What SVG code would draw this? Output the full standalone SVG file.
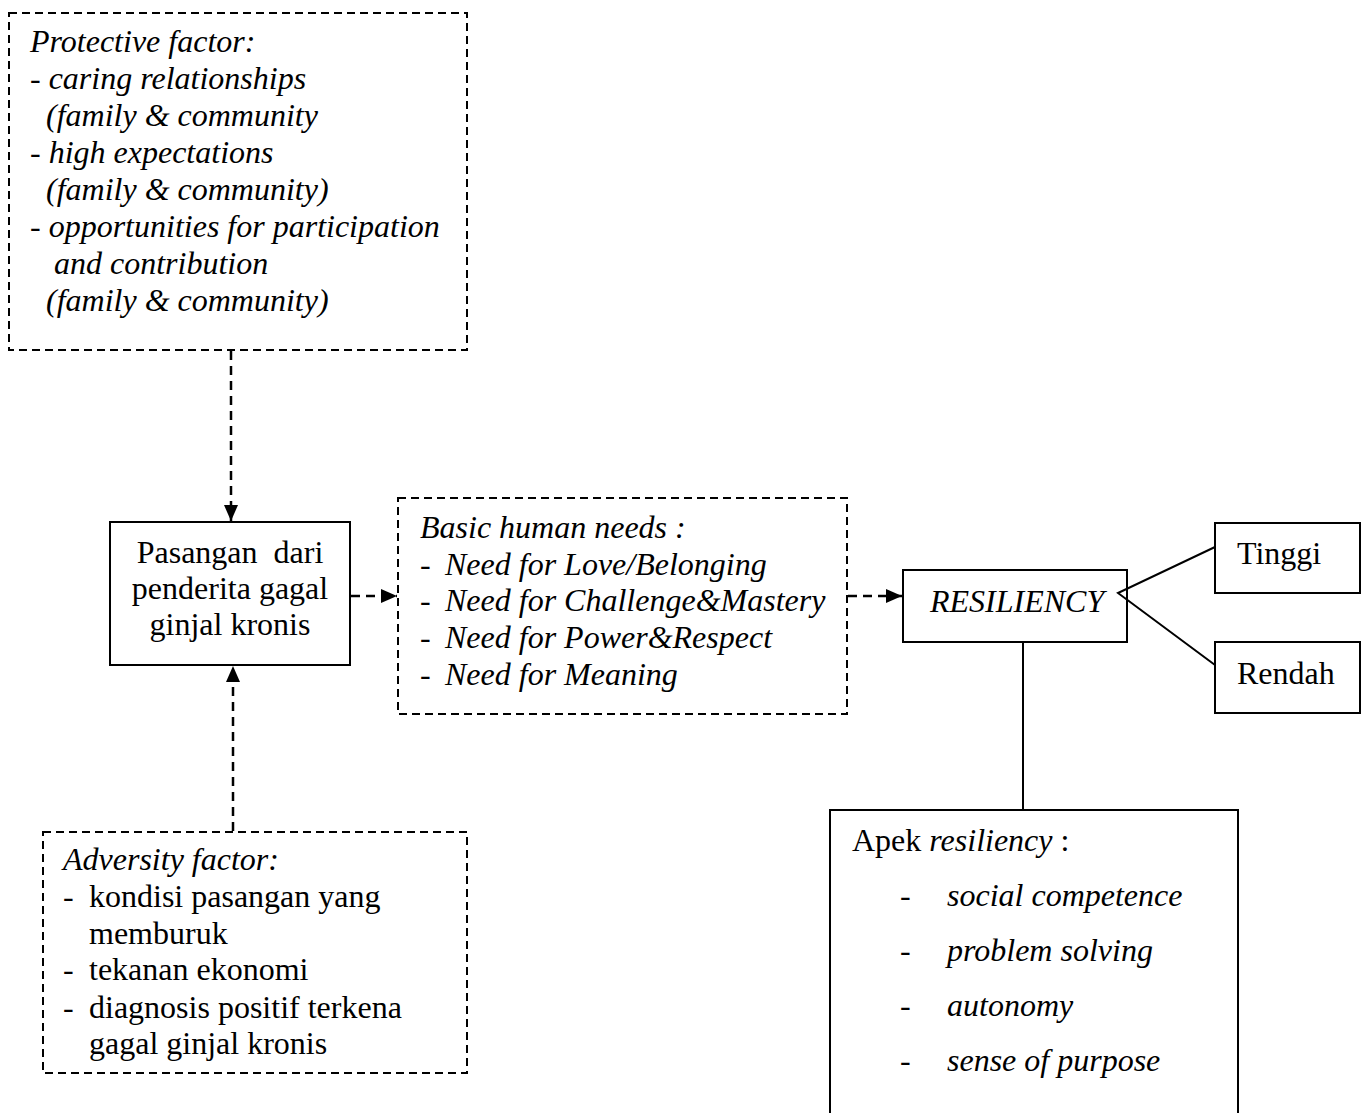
<svg xmlns="http://www.w3.org/2000/svg" width="1366" height="1113" viewBox="0 0 1366 1113">
<style>
text{font-family:"Liberation Serif","Times New Roman",serif;font-size:32px;fill:#000}
.i{font-style:italic}
.dash{fill:none;stroke:#000;stroke-width:2;stroke-dasharray:8,5}
.solid{fill:none;stroke:#000;stroke-width:2}
.conn{fill:none;stroke:#000;stroke-width:2.5;stroke-dasharray:9,6}
.line{fill:none;stroke:#000;stroke-width:2}
</style>
<defs>
<marker id="ah" markerUnits="userSpaceOnUse" markerWidth="18" markerHeight="18" viewBox="0 0 18 18" refX="17" refY="9" orient="auto">
<path d="M1,2 L17,9 L1,16 Z" fill="#000"/>
</marker>
</defs>
<rect width="1366" height="1113" fill="#fff"/>

<g id="protective">
<rect class="dash" x="9" y="13" width="458" height="337"/>
<text class="i" x="30" y="52">Protective factor:</text>
<text class="i" x="30" y="89">- caring relationships</text>
<text class="i" x="46" y="126">(family &amp; community</text>
<text class="i" x="30" y="163">- high expectations</text>
<text class="i" x="46" y="200">(family &amp; community)</text>
<text class="i" x="30" y="237">- opportunities for participation</text>
<text class="i" x="54" y="274">and contribution</text>
<text class="i" x="46" y="311">(family &amp; community)</text>
</g>

<g id="pasangan">
<rect class="solid" x="110" y="522" width="240" height="143"/>
<text x="230" y="563" text-anchor="middle" xml:space="preserve">Pasangan  dari</text>
<text x="230" y="599" text-anchor="middle">penderita gagal</text>
<text x="230" y="635" text-anchor="middle">ginjal kronis</text>
</g>

<g id="basic">
<rect class="dash" x="398" y="498" width="449" height="216"/>
<text class="i" x="420" y="538">Basic human needs :</text>
<text x="420" y="575">-</text><text class="i" x="445" y="575">Need for Love/Belonging</text>
<text x="420" y="611">-</text><text class="i" x="445" y="611">Need for Challenge&amp;Mastery</text>
<text x="420" y="648">-</text><text class="i" x="445" y="648">Need for Power&amp;Respect</text>
<text x="420" y="685">-</text><text class="i" x="445" y="685">Need for Meaning</text>
</g>

<g id="resiliency">
<rect class="solid" x="903" y="570" width="224" height="72"/>
<text class="i" x="930" y="612">RESILIENCY</text>
</g>

<g id="tinggi">
<rect class="solid" x="1215" y="523" width="145" height="70"/>
<text x="1237" y="564">Tinggi</text>
</g>

<g id="rendah">
<rect class="solid" x="1215" y="642" width="145" height="71"/>
<text x="1237" y="684">Rendah</text>
</g>

<g id="adversity">
<rect class="dash" x="43" y="832" width="424" height="241"/>
<text class="i" x="63" y="870">Adversity factor:</text>
<text x="63" y="907">-</text><text x="89" y="907">kondisi pasangan yang</text>
<text x="89" y="944">memburuk</text>
<text x="63" y="980">-</text><text x="89" y="980">tekanan ekonomi</text>
<text x="63" y="1018">-</text><text x="89" y="1018">diagnosis positif terkena</text>
<text x="89" y="1054">gagal ginjal kronis</text>
</g>

<g id="aspek">
<rect class="solid" x="830" y="810" width="408" height="320"/>
<text x="852" y="851">Apek <tspan class="i">resiliency</tspan> :</text>
<text x="900" y="906">-</text><text class="i" x="947" y="906">social competence</text>
<text x="900" y="961">-</text><text class="i" x="947" y="961">problem solving</text>
<text x="900" y="1016">-</text><text class="i" x="947" y="1016">autonomy</text>
<text x="900" y="1071">-</text><text class="i" x="947" y="1071">sense of purpose</text>
</g>

<g id="connectors">
<path class="conn" d="M231,351 L231,521" marker-end="url(#ah)"/>
<path class="conn" d="M233,831 L233,666" marker-end="url(#ah)"/>
<path class="conn" d="M351,596 L397,596" marker-end="url(#ah)"/>
<path class="conn" d="M848,596 L902,596" marker-end="url(#ah)"/>
<path class="line" d="M1215,547 L1118,593 L1215,665"/>
<path class="line" d="M1023,642 L1023,810"/>
</g>
</svg>
